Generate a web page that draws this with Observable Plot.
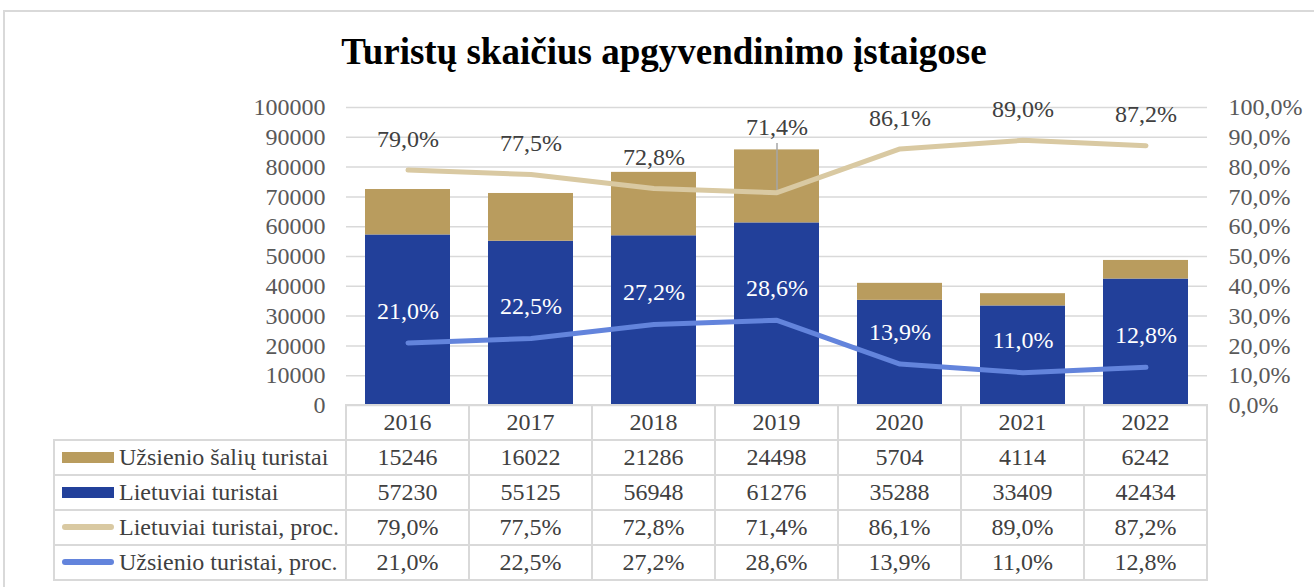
<!DOCTYPE html>
<html>
<head>
<meta charset="utf-8">
<script src="https://cdn.jsdelivr.net/npm/d3@7"></script>
<script src="https://cdn.jsdelivr.net/npm/@observablehq/plot@0.6"></script>
<style>
  html, body { margin:0; padding:0; background:#fff; overflow:hidden; }
  #wrap { position:relative; width:1314px; height:587px; overflow:hidden; font-family:'Liberation Serif', 'Times New Roman', serif; }
  #frame { position:absolute; left:3px; top:10px; width:1340px; height:620px; border:2px solid #d9d9d9; box-sizing:border-box; }
  #title { position:absolute; left:4px; width:1320px; top:32px; line-height:40px; text-align:center; font-weight:bold; font-size:37px; color:#000; }
  #chart { position:absolute; left:0; top:0; }
  #chart svg text { font-family:'Liberation Serif', 'Times New Roman', serif; }
  #tbl { position:absolute; left:53px; top:404px; border-collapse:collapse; table-layout:fixed; font-size:24px; color:#404040; }
  #tbl td { border:2px solid #d9d9d9; height:33px; padding:0; text-align:center; white-space:nowrap; }
  #tbl td.leg { text-align:left; padding-left:7px; }
  #tbl td.blank { border-top:none; border-left:none; }
  .key { display:inline-block; width:52px; margin-right:5px; vertical-align:middle; position:relative; top:-2px; }
</style>
</head>
<body>
<div id="wrap">
  <div id="frame"></div>
  <div id="title">Turistų skaičius apgyvendinimo įstaigose</div>
  <div id="chart"></div>
</div>
<script>
// ---- data ----
const years = ["2016", "2017", "2018", "2019", "2020", "2021", "2022"];
const foreignTourists = [15246, 16022, 21286, 24498, 5704, 4114, 6242];
const localTourists = [57230, 55125, 56948, 61276, 35288, 33409, 42434];
const localPct = [79.0, 77.5, 72.8, 71.4, 86.1, 89.0, 87.2];
const foreignPct = [21.0, 22.5, 27.2, 28.6, 13.9, 11.0, 12.8];
const seriesNames = ["Užsienio šalių turistai", "Lietuviai turistai", "Lietuviai turistai, proc.", "Užsienio turistai, proc."];
const yTicks = d3.range(0, 100001, 10000);

// ---- styling ----
const colTan = "#B99C5E";
const colNavy = "#22409A";
const colBeige = "#D9C9A2";
const colBlue = "#6384DC";
const serif = "'Liberation Serif', 'Times New Roman', serif";
const PCT = 1000; // 100 % on the right axis == 100000 on the left axis
const fmtPct = v => v.toFixed(1).replace(".", ",") + "%";

const bars = [
  ...years.map((y, i) => ({year: y, series: seriesNames[1], value: localTourists[i]})),
  ...years.map((y, i) => ({year: y, series: seriesNames[0], value: foreignTourists[i]}))
];
const localLine = years.map((y, i) => ({year: y, pct: localPct[i]}));
const foreignLine = years.map((y, i) => ({year: y, pct: foreignPct[i]}));
const moved = ["2019"]; // label moved up with a leader line

const chart = Plot.plot({
  width: 1314,
  height: 440,
  marginTop: 107,
  marginBottom: 35,
  marginLeft: 346,
  marginRight: 107,
  x: {type: "band", domain: years, paddingInner: 0.31, paddingOuter: 0.155, axis: null},
  y: {domain: [0, 100000], label: null},
  color: {domain: [seriesNames[0], seriesNames[1]], range: [colTan, colNavy]},
  style: {fontFamily: serif, fontSize: "24px", background: "transparent", overflow: "visible"},
  marks: [
    Plot.gridY(yTicks, {stroke: "#d9d9d9", strokeOpacity: 1, strokeWidth: 1.5}),
    Plot.axisY(yTicks, {tickSize: 0, tickPadding: 21, tickFormat: d => String(d), fill: "#595959", fontSize: 24, label: null}),
    Plot.axisY(yTicks, {anchor: "right", tickSize: 0, tickPadding: 21, tickFormat: d => fmtPct(d / PCT), fill: "#595959", fontSize: 24, label: null}),
    Plot.barY(bars, {x: "year", y: "value", fill: "series"}),
    Plot.ruleX(localLine.filter(d => moved.includes(d.year)), {x: "year", y1: d => d.pct * PCT, y2: d => (d.pct + 16.5) * PCT, stroke: "#a6a6a6", strokeWidth: 1.5}),
    Plot.lineY(localLine, {x: "year", y: d => d.pct * PCT, stroke: colBeige, strokeWidth: 5, strokeLinecap: "round", strokeLinejoin: "round"}),
    Plot.lineY(foreignLine, {x: "year", y: d => d.pct * PCT, stroke: colBlue, strokeWidth: 5, strokeLinecap: "round", strokeLinejoin: "round"}),
    Plot.text(localLine.filter(d => !moved.includes(d.year)), {x: "year", y: d => d.pct * PCT, text: d => fmtPct(d.pct), fill: "#404040", fontSize: 24, fontFamily: serif, dy: -31}),
    Plot.text(localLine.filter(d => moved.includes(d.year)), {x: "year", y: d => d.pct * PCT, text: d => fmtPct(d.pct), fill: "#404040", fontSize: 24, fontFamily: serif, dy: -65}),
    Plot.text(foreignLine, {x: "year", y: d => d.pct * PCT, text: d => fmtPct(d.pct), fill: "#ffffff", fontSize: 24, fontFamily: serif, dy: -32})
  ]
});
document.getElementById("chart").appendChild(chart);

// ---- data table ----
const tbl = document.createElement("table");
tbl.id = "tbl";
const cg = document.createElement("colgroup");
[292, ...years.map(() => 123)].forEach(w => { const c = document.createElement("col"); c.style.width = w + "px"; cg.appendChild(c); });
tbl.appendChild(cg);
function row(cells) { const tr = document.createElement("tr"); cells.forEach(c => tr.appendChild(c)); tbl.appendChild(tr); }
function td(text, cls) { const t = document.createElement("td"); if (cls) t.className = cls; if (text != null) t.textContent = text; return t; }
row([td(null, "blank"), ...years.map(y => td(y))]);
const keyDefs = [
  {h: 11, r: 0, c: colTan, vals: foreignTourists.map(String)},
  {h: 11, r: 0, c: colNavy, vals: localTourists.map(String)},
  {h: 6, r: 3, c: colBeige, vals: localPct.map(fmtPct)},
  {h: 6, r: 3, c: colBlue, vals: foreignPct.map(fmtPct)}
];
keyDefs.forEach((k, i) => {
  const lc = td(null, "leg");
  const key = document.createElement("span");
  key.className = "key";
  key.style.height = k.h + "px"; key.style.background = k.c; key.style.borderRadius = k.r + "px";
  lc.appendChild(key);
  lc.appendChild(document.createTextNode(seriesNames[i]));
  row([lc, ...k.vals.map(v => td(v))]);
});
document.getElementById("wrap").appendChild(tbl);
</script>
</body>
</html>
